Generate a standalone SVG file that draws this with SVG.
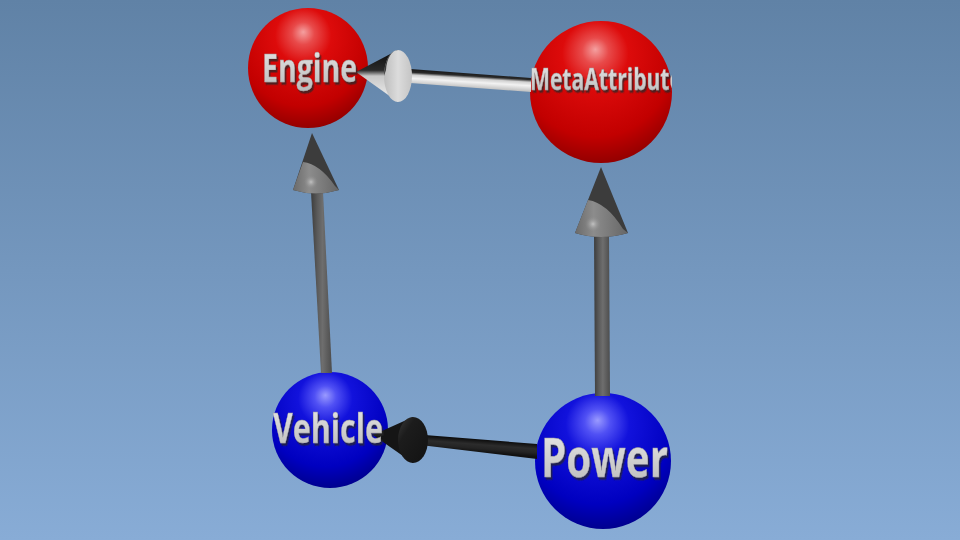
<svg xmlns="http://www.w3.org/2000/svg" width="960" height="540" viewBox="0 0 960 540">
  <defs>
    <linearGradient id="bg" x1="0" y1="0" x2="0" y2="1">
      <stop offset="0" stop-color="#6082a6"/>
      <stop offset="1" stop-color="#88acd6"/>
    </linearGradient>
    <radialGradient id="red" cx="0.46" cy="0.3" r="0.78" fx="0.46" fy="0.2">
      <stop offset="0" stop-color="#f4a0a0"/>
      <stop offset="0.12" stop-color="#e84a4a"/>
      <stop offset="0.3" stop-color="#dd0b0b"/>
      <stop offset="0.7" stop-color="#c20000"/>
      <stop offset="1" stop-color="#800000"/>
    </radialGradient>
    <radialGradient id="blue" cx="0.46" cy="0.3" r="0.78" fx="0.46" fy="0.2">
      <stop offset="0" stop-color="#9a9aff"/>
      <stop offset="0.12" stop-color="#5050f4"/>
      <stop offset="0.3" stop-color="#1212dc"/>
      <stop offset="0.7" stop-color="#0000c0"/>
      <stop offset="1" stop-color="#00007a"/>
    </radialGradient>
    <linearGradient id="vshaft" x1="0" y1="0" x2="1" y2="0">
      <stop offset="0" stop-color="#3c3c3c"/>
      <stop offset="0.3" stop-color="#5a5a5a"/>
      <stop offset="0.55" stop-color="#6e6e6e"/>
      <stop offset="1" stop-color="#4c4c4c"/>
    </linearGradient>
    <linearGradient id="vconeLight" x1="0" y1="0" x2="1" y2="0">
      <stop offset="0" stop-color="#6a6a6a"/>
      <stop offset="0.35" stop-color="#8c8c8c"/>
      <stop offset="1" stop-color="#666666"/>
    </linearGradient>
    <radialGradient id="hl" cx="0.5" cy="0.5" r="0.5">
      <stop offset="0" stop-color="#c4c4c4" stop-opacity="0.95"/>
      <stop offset="1" stop-color="#8c8c8c" stop-opacity="0"/>
    </radialGradient>
    <linearGradient id="topShaft" gradientUnits="userSpaceOnUse" x1="464" y1="72" x2="463" y2="88">
      <stop offset="0" stop-color="#151515"/>
      <stop offset="0.22" stop-color="#2a2a2a"/>
      <stop offset="0.38" stop-color="#d0d0d0"/>
      <stop offset="0.6" stop-color="#f2f2f2"/>
      <stop offset="1" stop-color="#bcbcbc"/>
    </linearGradient>
    <linearGradient id="topCone" gradientUnits="userSpaceOnUse" x1="0" y1="52" x2="0" y2="100">
      <stop offset="0" stop-color="#0e0e0e"/>
      <stop offset="0.38" stop-color="#2a2a2a"/>
      <stop offset="0.5" stop-color="#c8c8c8"/>
      <stop offset="1" stop-color="#efefef"/>
    </linearGradient>
    <linearGradient id="topBase" x1="0" y1="0" x2="1" y2="0">
      <stop offset="0" stop-color="#bdbdbd"/>
      <stop offset="0.5" stop-color="#dcdcdc"/>
      <stop offset="1" stop-color="#c4c4c4"/>
    </linearGradient>
    <linearGradient id="botShaft" gradientUnits="userSpaceOnUse" x1="475" y1="439" x2="474" y2="452">
      <stop offset="0" stop-color="#0c0c0c"/>
      <stop offset="0.4" stop-color="#2c2c2c"/>
      <stop offset="0.7" stop-color="#242424"/>
      <stop offset="1" stop-color="#111111"/>
    </linearGradient>
    <linearGradient id="botBase" x1="0" y1="0" x2="1" y2="1">
      <stop offset="0" stop-color="#3a3a3a"/>
      <stop offset="0.3" stop-color="#1c1c1c"/>
      <stop offset="1" stop-color="#121212"/>
    </linearGradient>
    <linearGradient id="txt" x1="0" y1="0" x2="0" y2="1">
      <stop offset="0" stop-color="#ececec"/>
      <stop offset="1" stop-color="#b8b8b8"/>
    </linearGradient>
    <filter id="relief" x="-10%" y="-20%" width="120%" height="150%">
      <feDropShadow dx="1.5" dy="2.5" stdDeviation="0.6" flood-color="#2a2a2a" flood-opacity="0.75"/>
    </filter>
    <clipPath id="metaClip">
      <rect x="500" y="0" width="172" height="200"/>
    </clipPath>
  </defs>
  <style>
    .lbl { font-family: "Open Sans", "DejaVu Sans", sans-serif; font-weight: 700; fill: url(#txt); stroke: #9a9a9a; stroke-width: 0.4; filter: url(#relief); }
  </style>

  <rect width="960" height="540" fill="url(#bg)"/>

  <g id="node-engine">
    <circle cx="308" cy="68" r="60" fill="url(#red)"/>
  </g>
  <g id="node-meta">
    <circle cx="601" cy="92" r="71" fill="url(#red)"/>
  </g>
  <g id="node-vehicle">
    <circle cx="330" cy="430" r="58" fill="url(#blue)"/>
  </g>
  <g id="node-power">
    <circle cx="603" cy="461" r="68" fill="url(#blue)"/>
  </g>

  <g id="connectors">
    <g id="edge-vehicle-engine">
      <polygon points="311,192 323,192 332,373 321,373" fill="url(#vshaft)"/>
      <path d="M312,133 L293,190 Q316,197 339,190 Z" fill="#3c3c3c"/>
      <path d="M303,162 Q320,164 335,186 L339,190 Q316,197 293,190 Z" fill="url(#vconeLight)"/>
      <ellipse cx="311" cy="182" rx="7" ry="7" fill="url(#hl)"/>
    </g>
    <g id="edge-power-meta">
      <polygon points="594,234 609,234 610,396 595,396" fill="url(#vshaft)"/>
      <path d="M601,167 L575,233 Q601,241 628,233 Z" fill="#3c3c3c"/>
      <path d="M588,200 Q607,203 623,229 L628,233 Q601,241 575,233 Z" fill="url(#vconeLight)"/>
      <ellipse cx="593" cy="224" rx="8" ry="8" fill="url(#hl)"/>
    </g>
    <g id="edge-meta-engine">
      <polygon points="397,68 531,78 531,92 397,82" fill="url(#topShaft)"/>
      <path d="M356,72 L398,50 L398,102 Z" fill="url(#topCone)"/>
      <ellipse cx="398" cy="76" rx="14" ry="26" fill="url(#topBase)"/>
      <path d="M384,76 A14,26 0 0 1 398,50 A12,22 0 0 0 386,70 Z" fill="#1a1a1a" opacity="0.8"/>
    </g>
    <g id="edge-power-vehicle">
      <polygon points="412,434 537,444 537,459 412,444" fill="url(#botShaft)"/>
      <path d="M373,435 L413,417 L413,463 Z" fill="#151515"/>
      <ellipse cx="413" cy="440" rx="15" ry="23" fill="url(#botBase)"/>
    </g>
  </g>

  <g id="labels">
    <text id="label-engine" class="lbl" font-size="40" x="262" y="82" textLength="95" lengthAdjust="spacingAndGlyphs">Engine</text>
    <g clip-path="url(#metaClip)">
      <text id="label-meta" class="lbl" font-size="31" x="530" y="90" textLength="152" lengthAdjust="spacingAndGlyphs">MetaAttribute</text>
    </g>
    <text id="label-vehicle" class="lbl" font-size="42" x="273" y="443" textLength="110" lengthAdjust="spacingAndGlyphs">Vehicle</text>
    <text id="label-power" class="lbl" font-size="54" x="541" y="477" textLength="127" lengthAdjust="spacingAndGlyphs">Power</text>
  </g>
</svg>
